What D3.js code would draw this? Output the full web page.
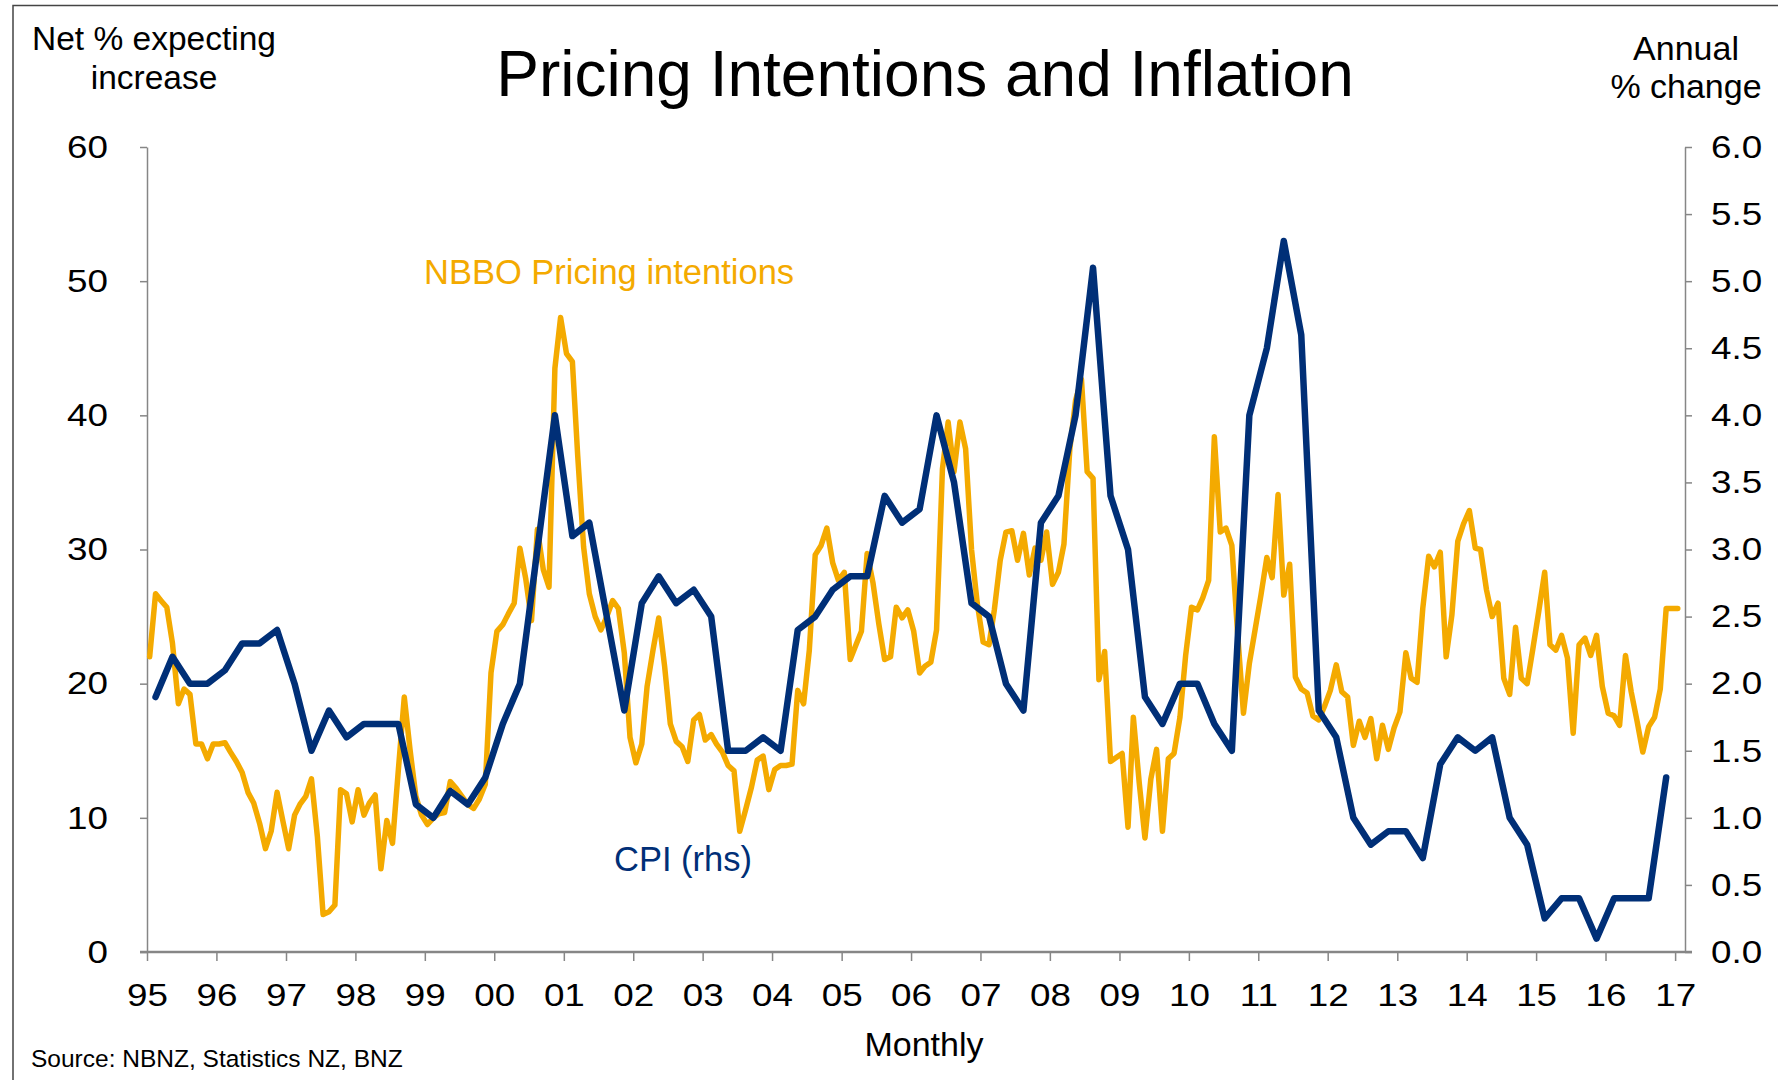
<!DOCTYPE html>
<html>
<head>
<meta charset="utf-8">
<script src="https://cdn.jsdelivr.net/npm/d3@7"></script>
<style>
  body { margin: 0; background: #fff; }
  svg { display: block; font-family: "Liberation Sans", Arial, sans-serif; }
</style>
</head>
<body>
<div id="chart"></div>
<script>
// NBBO pricing intentions, net % expecting increase, monthly Jan 1995 - Jan 2017
const nbbo = [
  22.0, 26.7, 26.2, 25.7, 23.0, 18.5, 19.6, 19.2, 15.5, 15.5, 14.4, 15.5, // 1995
  15.5, 15.6, 14.9, 14.2, 13.4, 11.9, 11.1, 9.6, 7.7, 9.0, 11.9, 9.8,     // 1996
  7.7, 10.2, 11.0, 11.6, 12.9, 8.6, 2.8, 3.0, 3.5, 12.1, 11.8, 9.7,       // 1997
  12.1, 10.2, 11.1, 11.7, 6.2, 9.8, 8.1, 13.6, 19.0, 15.1, 11.6, 10.2,    // 1998
  9.5, 10.0, 10.3, 10.4, 12.7, 12.2, 11.6, 11.0, 10.7, 11.4, 12.5, 20.8,  // 1999
  23.9, 24.4, 25.2, 26.0, 30.1, 27.8, 24.7, 31.5, 28.5, 27.2, 43.5, 47.3, // 2000
  44.6, 44.0, 37.0, 30.2, 26.7, 25.0, 24.0, 25.0, 26.2, 25.6, 22.3, 16.0, // 2001
  14.1, 15.5, 19.8, 22.5, 24.9, 21.3, 17.0, 15.7, 15.3, 14.2, 17.3, 17.7, // 2002
  15.8, 16.2, 15.5, 14.9, 13.9, 13.5, 9.0, 10.6, 12.3, 14.3, 14.6, 12.1,  // 2003
  13.6, 13.9, 13.9, 14.0, 19.5, 18.5, 22.5, 29.6, 30.3, 31.6, 29.0, 27.7, // 2004
  28.3, 21.8, 22.8, 23.9, 29.7, 27.5, 24.5, 21.8, 22.0, 25.7, 24.9, 25.5, // 2005
  23.9, 20.8, 21.3, 21.6, 24.0, 36.0, 39.5, 35.8, 39.5, 37.5, 30.0, 26.0, // 2006
  23.1, 22.9, 25.5, 29.2, 31.3, 31.4, 29.2, 31.2, 28.1, 30.1, 29.2, 31.3, // 2007
  27.4, 28.3, 30.4, 37.5, 41.1, 42.7, 35.8, 35.3, 20.3, 22.4, 14.2, 14.5, // 2008
  14.8, 9.3, 17.5, 12.6, 8.5, 12.9, 15.1, 9.0, 14.4, 14.8, 17.5, 22.1,    // 2009
  25.7, 25.5, 26.4, 27.7, 38.4, 31.3, 31.6, 30.3, 23.6, 17.8, 21.5, 24.0, // 2010
  26.6, 29.4, 27.9, 34.1, 26.6, 28.9, 20.5, 19.6, 19.3, 17.6, 17.3, 18.3, // 2011
  19.5, 21.4, 19.4, 19.0, 15.4, 17.2, 16.0, 17.4, 14.4, 16.9, 15.1, 16.7, // 2012
  17.9, 22.3, 20.4, 20.1, 25.6, 29.5, 28.7, 29.8, 22.0, 25.1, 30.6, 31.9, // 2013
  32.9, 30.1, 30.0, 27.0, 25.0, 26.0, 20.4, 19.2, 24.2, 20.4, 20.0, 22.6, // 2014
  25.4, 28.3, 22.9, 22.5, 23.6, 21.9, 16.3, 22.9, 23.4, 22.1, 23.6, 19.8, // 2015
  17.8, 17.6, 16.9, 22.1, 19.4, 17.2, 14.9, 16.8, 17.5, 19.6, 25.6, 25.6, // 2016
  25.6                                                                    // 2017
];

// CPI annual % change, quarterly Q1 1995 - Q4 2016
const cpi = [
  1.9, 2.2, 2.0, 2.0,   2.1, 2.3, 2.3, 2.4,   2.0, 1.5, 1.8, 1.6,   // 95-97
  1.7, 1.7, 1.7, 1.1,   1.0, 1.2, 1.1, 1.3,   1.7, 2.0, 3.0, 4.0,   // 98-00
  3.1, 3.2, 2.5, 1.8,   2.6, 2.8, 2.6, 2.7,   2.5, 1.5, 1.5, 1.6,   // 01-03
  1.5, 2.4, 2.5, 2.7,   2.8, 2.8, 3.4, 3.2,   3.3, 4.0, 3.5, 2.6,   // 04-06
  2.5, 2.0, 1.8, 3.2,   3.4, 4.0, 5.1, 3.4,   3.0, 1.9, 1.7, 2.0,   // 07-09
  2.0, 1.7, 1.5, 4.0,   4.5, 5.3, 4.6, 1.8,   1.6, 1.0, 0.8, 0.9,   // 10-12
  0.9, 0.7, 1.4, 1.6,   1.5, 1.6, 1.0, 0.8,   0.25, 0.4, 0.4, 0.1,  // 13-15
  0.4, 0.4, 0.4, 1.3                                                // 16
];

const yearLabels = ['95', '96', '97', '98', '99', '00', '01', '02', '03', '04', '05', '06',
  '07', '08', '09', '10', '11', '12', '13', '14', '15', '16', '17'];
const leftTicks = [0, 10, 20, 30, 40, 50, 60];
const rightTicks = [0, 0.5, 1, 1.5, 2, 2.5, 3, 3.5, 4, 4.5, 5, 5.5, 6];

const width = 1778, height = 1080;
const box = { left: 147, right: 1685, top: 147, bottom: 952 };
const orange = '#f4aa00', navy = '#002f77', axisGrey = '#868686';

const svg = d3.select('#chart').append('svg')
  .attr('width', width)
  .attr('height', height);

// frame
svg.append('path')
  .attr('d', 'M13,1080 V5.5 H1778')
  .attr('fill', 'none')
  .attr('stroke', '#444')
  .attr('stroke-width', 1.5);

const x = d3.scaleTime()
  .domain([new Date(1995, 0, 1), new Date(2017, 1, 22)])
  .range([box.left, box.right]);

const yL = d3.scaleLinear().domain([0, 60]).range([box.bottom, box.top]);
const yR = d3.scaleLinear().domain([0, 6]).range([box.bottom, box.top]);

const nbboData = nbbo.map((v, i) => ({ date: new Date(1995, i, 15), value: v }));
const cpiData = cpi.map((v, i) => ({ date: new Date(1995, 3 * i + 1, 15), value: v }));

// axes
const leftAxis = svg.append('g')
  .attr('transform', 'translate(' + box.left + ',0)')
  .call(d3.axisLeft(yL).tickValues(leftTicks).tickSize(7).tickPadding(32).tickSizeOuter(0));

const rightAxis = svg.append('g')
  .attr('transform', 'translate(' + box.right + ',0)')
  .call(d3.axisRight(yR).tickValues(rightTicks).tickSize(7).tickPadding(19).tickSizeOuter(0)
    .tickFormat(d3.format('.1f')));

const xAxis = svg.append('g')
  .attr('transform', 'translate(0,' + box.bottom + ')')
  .call(d3.axisBottom(x)
    .tickValues(d3.range(1995, 2018).map(y => new Date(y, 0, 1)))
    .tickFormat((d, i) => yearLabels[i])
    .tickSize(9).tickPadding(22).tickSizeOuter(0));

xAxis.select('.domain').remove();
svg.append('line')
  .attr('x1', box.left - 7).attr('x2', box.right + 7)
  .attr('y1', box.bottom).attr('y2', box.bottom)
  .attr('stroke', axisGrey)
  .attr('stroke-width', 2.5);

// tick labels in the original are a little wider than Arial
[leftAxis, rightAxis, xAxis].forEach(g => {
  g.selectAll('path, line').attr('stroke', axisGrey).attr('stroke-width', 1.5);
  g.selectAll('text')
    .attr('fill', '#000')
    .style('font-size', '32px')
    .style('font-family', '"Liberation Sans", Arial, sans-serif')
    .each(function () {
      const w = this.getComputedTextLength();
      d3.select(this)
        .attr('textLength', w * 1.15)
        .attr('lengthAdjust', 'spacingAndGlyphs');
    });
});

// series
const line = (yScale) => d3.line()
  .x(d => x(d.date))
  .y(d => yScale(d.value));

svg.append('path')
  .datum(nbboData)
  .attr('d', line(yL))
  .attr('fill', 'none')
  .attr('stroke', orange)
  .attr('stroke-width', 5.5)
  .attr('stroke-linejoin', 'round')
  .attr('stroke-linecap', 'round');

svg.append('path')
  .datum(cpiData)
  .attr('d', line(yR))
  .attr('fill', 'none')
  .attr('stroke', navy)
  .attr('stroke-width', 6.5)
  .attr('stroke-linejoin', 'round')
  .attr('stroke-linecap', 'round');

// text
svg.append('text')
  .attr('x', 925).attr('y', 96)
  .attr('text-anchor', 'middle')
  .style('font-size', '64px')
  .text('Pricing Intentions and Inflation');

const leftTitle = svg.append('text')
  .attr('text-anchor', 'middle')
  .style('font-size', '33.5px');
leftTitle.append('tspan').attr('x', 154).attr('y', 50).text('Net % expecting');
leftTitle.append('tspan').attr('x', 154).attr('y', 89).text('increase');

const rightTitle = svg.append('text')
  .attr('text-anchor', 'middle')
  .style('font-size', '34px');
rightTitle.append('tspan').attr('x', 1686).attr('y', 60).text('Annual');
rightTitle.append('tspan').attr('x', 1686).attr('y', 98).text('% change');

svg.append('text')
  .attr('x', 424).attr('y', 284)
  .attr('fill', orange)
  .style('font-size', '34.5px')
  .text('NBBO Pricing intentions');

svg.append('text')
  .attr('x', 614).attr('y', 871)
  .attr('fill', navy)
  .style('font-size', '34.5px')
  .text('CPI (rhs)');

svg.append('text')
  .attr('x', 924).attr('y', 1056)
  .attr('text-anchor', 'middle')
  .style('font-size', '34px')
  .text('Monthly');

svg.append('text')
  .attr('x', 31).attr('y', 1067)
  .style('font-size', '24.5px')
  .text('Source: NBNZ, Statistics NZ, BNZ');
</script>
</body>
</html>
